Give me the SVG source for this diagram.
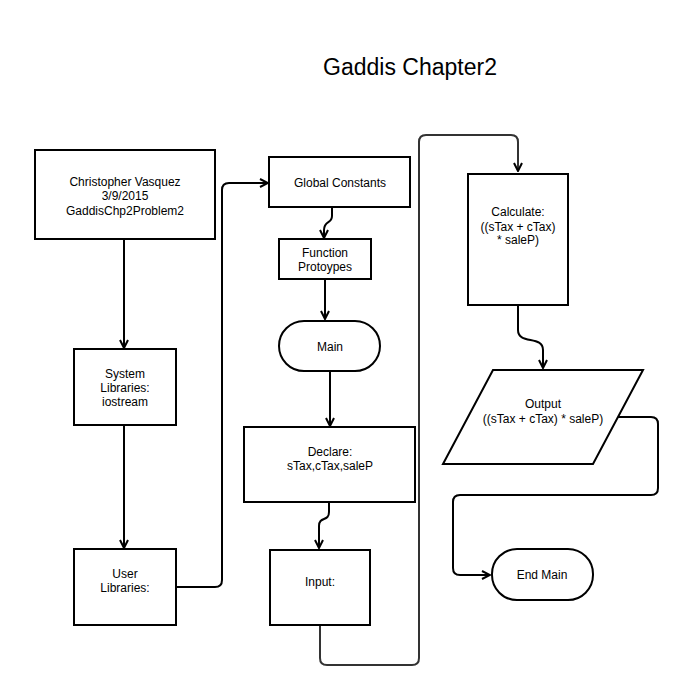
<svg xmlns="http://www.w3.org/2000/svg" width="682" height="689" viewBox="0 0 682 689">
<style>
.n{fill:#fff;stroke:#000;stroke-width:2}
.t{font-family:"Liberation Sans",Arial,sans-serif;font-size:12px;fill:#000;text-anchor:middle}
.c{fill:none;stroke:#000;stroke-width:2}
.g{fill:none;stroke:#333;stroke-width:2}
</style>
<defs>
<marker id="a" viewBox="0 0 10 10" refX="9" refY="5" markerWidth="10" markerHeight="10" markerUnits="userSpaceOnUse" orient="auto">
<path d="M1,1 L9,5 L1,9" fill="none" stroke="#000" stroke-width="2"/>
</marker>
</defs>
<rect width="682" height="689" fill="#fff"/>
<text x="410" y="75" style="font-family:'Liberation Sans',Arial,sans-serif;font-size:23px;text-anchor:middle">Gaddis Chapter2</text>
<g id="connectors">
<path class="c" d="M124,240 V348" marker-end="url(#a)"/>
<path class="c" d="M124,425 V548" marker-end="url(#a)"/>
<path class="c" d="M176,587 H215 Q222,587 222,580 V190 Q222,183 229,183 H268" marker-end="url(#a)"/>
<path class="c" d="M332,207 V216 C332,224 324,220 324,230 V238" marker-end="url(#a)"/>
<path class="c" d="M325,279 V319" marker-end="url(#a)"/>
<path class="c" d="M330,371 V426" marker-end="url(#a)"/>
<path class="c" d="M329,502 V512 C329,522 319,516 319,526 V548" marker-end="url(#a)"/>
<path class="g" d="M320,625 V658 Q320,665 327,665 H412 Q419,665 419,658 V142 Q419,135 426,135 H511 Q518,135 518,142 V171" marker-end="url(#a)"/>
<path class="c" d="M518,305 V330 C518,345 543,335 543,350 V368" marker-end="url(#a)"/>
<path class="c" d="M618,417 H651 Q658,417 658,424 V488 Q658,495 651,495 H460 Q453,495 453,502 V568 Q453,575 460,575 H490" marker-end="url(#a)"/>
</g>
<g id="n1"><rect class="n" x="35" y="150" width="180" height="89"/>
<text class="t" x="125" y="186">Christopher Vasquez</text><text class="t" x="125" y="200">3/9/2015</text><text class="t" x="125" y="215">GaddisChp2Problem2</text></g>
<g id="n2"><rect class="n" x="74" y="349" width="102" height="76"/>
<text class="t" x="125" y="378">System</text><text class="t" x="125" y="392">Libraries:</text><text class="t" x="125" y="406">iostream</text></g>
<g id="n3"><rect class="n" x="74" y="549" width="102" height="76"/>
<text class="t" x="125" y="578">User</text><text class="t" x="125" y="592">Libraries:</text></g>
<g id="n4"><rect class="n" x="269" y="157" width="141" height="50"/>
<text class="t" x="340" y="187">Global Constants</text></g>
<g id="n5"><rect class="n" x="279" y="239" width="92" height="40"/>
<text class="t" x="325" y="257">Function</text><text class="t" x="325" y="271">Protoypes</text></g>
<g id="n6"><rect class="n" x="279" y="321" width="101" height="50" rx="25" ry="25"/>
<text class="t" x="330" y="351">Main</text></g>
<g id="n7"><rect class="n" x="244" y="427" width="171" height="75"/>
<text class="t" x="330" y="456">Declare:</text><text class="t" x="330" y="470">sTax,cTax,saleP</text></g>
<g id="n8"><rect class="n" x="270" y="550" width="100" height="75"/>
<text class="t" x="320" y="586">Input:</text></g>
<g id="n9"><rect class="n" x="468" y="174" width="100" height="131"/>
<text class="t" x="518" y="216">Calculate:</text><text class="t" x="518" y="231">((sTax + cTax)</text><text class="t" x="518" y="244">* saleP)</text></g>
<g id="n10"><polygon class="n" points="493,370 643,370 593,464 443,464"/>
<text class="t" x="543" y="408">Output</text><text class="t" x="543" y="423">((sTax + cTax) * saleP)</text></g>
<g id="n11"><rect class="n" x="492" y="549" width="101" height="51" rx="25" ry="25"/>
<text class="t" x="542" y="579">End Main</text></g>
</svg>
